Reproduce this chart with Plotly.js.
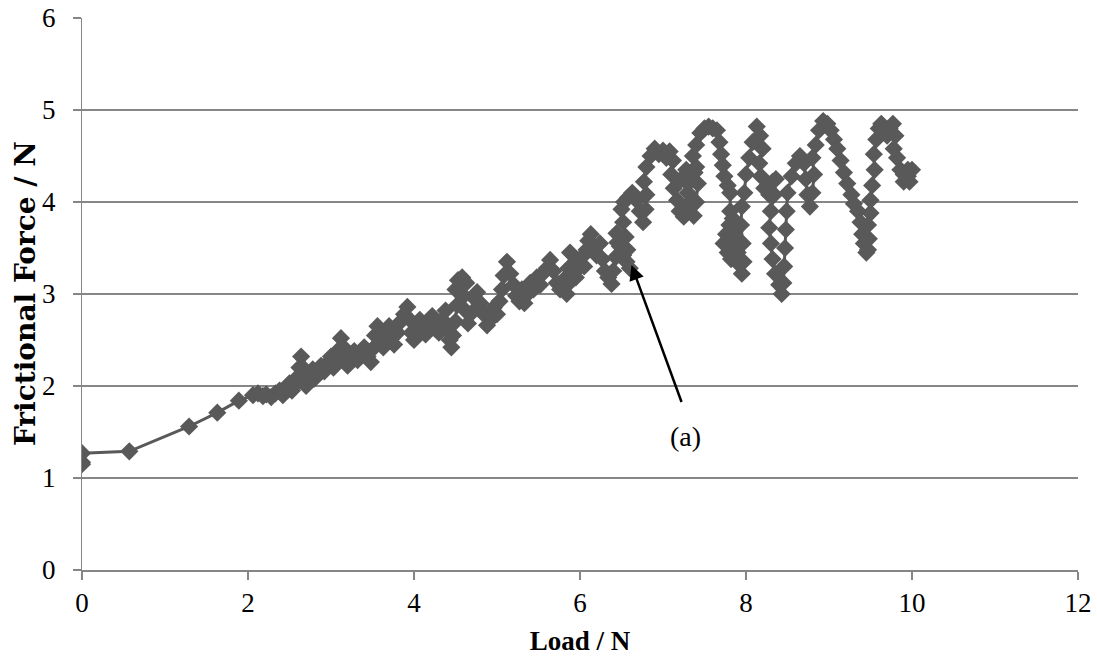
<!DOCTYPE html>
<html>
<head>
<meta charset="utf-8">
<script src="https://cdn.plot.ly/plotly-3.0.1.min.js"></script>
<style>html,body{margin:0;padding:0;background:#fff;}#chart{width:1097px;height:657px;}</style>
</head>
<body>
<div id="chart"></div>
<script>
// Load (N) and frictional force (N) in trace order
var load = [
0,0,0,0.57,1.29,1.63,1.89,
2.06,2.12,2.18,2.22,2.28,2.33,2.38,2.42,2.46,2.5,
2.53,2.57,2.6,2.62,2.64,2.66,2.68,2.7,2.74,2.78,
2.8,2.84,2.88,2.92,2.96,3.0,3.03,3.06,3.1,3.12,
3.15,3.18,3.2,3.24,3.28,3.32,3.36,3.4,3.44,3.48,
3.5,3.53,3.56,3.6,3.63,3.66,3.7,3.73,3.76,3.8,
3.84,3.88,3.92,3.95,3.97,4.0,4.03,4.07,4.1,4.14,
4.18,4.22,4.26,4.3,4.34,4.38,4.41,4.43,4.45,4.47,
4.5,4.52,4.5,4.53,4.58,4.63,4.6,4.62,4.65,4.7,
4.73,4.76,4.8,4.84,4.88,4.92,4.96,5.0,5.03,5.06,
5.08,5.12,5.16,5.2,5.23,5.27,5.3,5.33,5.37,5.4,
5.44,5.48,5.52,5.55,5.6,5.64,5.68,5.72,5.76,5.8,
5.84,5.87,5.86,5.88,5.92,5.95,5.98,6.02,6.05,6.08,
6.1,6.13,6.17,6.2,6.24,6.27,6.3,6.34,6.38,6.4,
6.43,6.45,6.44,6.48,6.52,6.56,6.6,6.57,6.55,6.52,
6.5,6.53,6.58,6.63,6.68,6.72,6.76,6.79,6.8,6.77,
6.8,6.85,6.9,6.95,7.0,7.04,7.08,7.12,7.1,7.13,
7.17,7.2,7.25,7.28,7.3,7.34,7.37,7.4,7.42,7.35,
7.28,7.22,7.3,7.38,7.4,
7.36,7.4,7.45,7.5,7.55,7.6,7.65,7.68,7.7,7.72,
7.74,7.78,7.81,7.81,7.8,7.76,7.73,7.78,7.82,7.84,
7.86,7.84,7.88,7.9,7.92,7.95,7.97,7.96,7.94,7.95,
7.98,8.0,8.04,8.08,8.13,8.17,8.2,8.16,8.18,8.22,
8.28,8.32,8.36,8.34,8.3,8.28,8.3,8.32,8.35,8.4,
8.43,8.45,8.46,8.47,8.48,8.49,8.5,8.55,8.6,8.65,
8.7,8.72,8.74,8.77,8.8,8.82,8.8,8.84,8.88,8.93,
8.98,9.02,9.06,9.1,9.14,9.18,9.22,9.27,9.3,9.35,
9.38,9.4,9.42,9.45,9.47,9.48,9.47,9.5,9.5,9.52,
9.55,9.54,9.57,9.6,9.63,9.67,9.7,9.73,9.77,9.8,
9.78,9.82,9.86,9.9,9.95,10.0,9.97,9.9,9.95
];
var friction = [
1.17,1.15,1.27,1.29,1.56,1.71,1.84,
1.90,1.92,1.89,1.91,1.88,1.92,1.95,1.90,1.98,2.03,
1.95,2.02,2.1,2.2,2.32,2.2,2.08,2.0,2.1,2.18,
2.08,2.14,2.22,2.16,2.25,2.32,2.2,2.28,2.4,2.52,
2.42,2.3,2.22,2.3,2.38,2.28,2.35,2.42,2.32,2.26,
2.4,2.55,2.65,2.5,2.42,2.56,2.65,2.52,2.45,2.58,
2.7,2.78,2.86,2.72,2.58,2.5,2.62,2.72,2.65,2.56,
2.68,2.76,2.62,2.58,2.72,2.82,2.65,2.5,2.42,2.55,
2.7,2.88,3.05,3.15,3.18,3.12,2.98,2.82,2.68,2.8,
2.95,3.02,2.9,2.78,2.66,2.72,2.85,2.78,2.92,3.05,
3.2,3.35,3.22,3.1,2.98,2.92,3.05,2.9,3.0,3.12,
3.05,3.18,3.1,3.22,3.28,3.37,3.25,3.12,3.05,3.15,
3.0,3.12,3.28,3.45,3.32,3.18,3.28,3.4,3.3,3.48,
3.58,3.65,3.52,3.42,3.55,3.38,3.25,3.18,3.11,3.25,
3.4,3.56,3.66,3.52,3.42,3.35,3.28,3.48,3.62,3.78,
3.92,4.0,4.05,4.1,4.02,3.9,3.78,3.92,4.08,4.22,
4.38,4.5,4.58,4.52,4.56,4.48,4.55,4.45,4.3,4.15,
4.02,3.9,3.84,3.95,4.1,3.95,3.85,4.0,4.2,4.3,
4.35,4.25,4.2,4.32,4.38,
4.5,4.62,4.75,4.8,4.82,4.8,4.78,4.65,4.52,4.4,
4.28,4.18,4.1,3.9,3.75,3.65,3.55,3.45,3.38,3.52,
3.68,3.82,3.6,3.45,3.32,3.22,3.35,3.55,3.75,3.95,
4.1,4.3,4.48,4.65,4.82,4.72,4.58,4.42,4.28,4.15,
4.08,4.22,4.25,4.08,3.9,3.72,3.55,3.38,3.22,3.1,
3.0,3.12,3.3,3.5,3.7,3.9,4.1,4.28,4.42,4.5,
4.42,4.25,4.08,3.95,4.1,4.3,4.48,4.62,4.78,4.88,
4.85,4.78,4.68,4.58,4.45,4.32,4.2,4.08,3.98,3.9,
3.78,3.65,3.55,3.45,3.48,3.6,3.75,3.88,4.02,4.18,
4.35,4.52,4.68,4.8,4.85,4.78,4.72,4.8,4.85,4.72,
4.58,4.48,4.35,4.22,4.28,4.35,4.22,4.3,4.35
];
var xTicks = [0,2,4,6,8,10,12];
var yTicks = [0,1,2,3,4,5,6];
var xTitle = "Load / N";
var yTitle = "Frictional Force / N";
var markLabel = "(a)";

var serif = "Liberation Serif, Times New Roman, serif";
var grey = "#595959";
var axisGrey = "#868686";

var trace = {
  x: load, y: friction,
  type: "scatter", mode: "lines+markers",
  line: {color: grey, width: 3},
  marker: {symbol: "diamond", size: 14, color: grey},
  showlegend: false, hoverinfo: "skip"
};

var annotations = [
  {xref: "paper", yref: "paper", x: -0.0572, y: 0.5, xanchor: "center", yanchor: "middle",
   text: "<b>" + yTitle + "</b>", textangle: -90, showarrow: false,
   font: {family: "DejaVu Serif, serif", size: 28, color: "#000"}},
  {x: 6.62, y: 3.315, xref: "x", yref: "y", ax: 7.23, ay: 1.81, axref: "x", ayref: "y",
   text: "", showarrow: true, arrowhead: 2, arrowsize: 1.2, arrowwidth: 2.5, arrowcolor: "#000"},
  {x: 7.27, y: 1.45, xref: "x", yref: "y", text: markLabel, showarrow: false,
   font: {family: serif, size: 28, color: "#000"}}
];
// y tick labels placed further from the axis, as in the reference
yTicks.forEach(function (v) {
  annotations.push({xref: "paper", yref: "y", x: -0.0251, y: v, xanchor: "right", yanchor: "middle",
    text: String(v), showarrow: false, borderpad: 0,
    font: {family: serif, size: 27, color: "#000"}});
});

var layout = {
  width: 1097, height: 657,
  margin: {l: 82, r: 19, t: 18, b: 87},
  paper_bgcolor: "#fff", plot_bgcolor: "#fff",
  font: {family: serif, size: 27, color: "#000"},
  xaxis: {
    range: [0, 12], tickvals: xTicks, ticktext: xTicks.map(String),
    showgrid: false, zeroline: false,
    showline: true, linecolor: axisGrey, linewidth: 1.5,
    ticks: "outside", ticklen: 8, tickcolor: axisGrey, tickwidth: 1.5,
    tickfont: {family: serif, size: 27, color: "#000"},
    title: {text: "<b>" + xTitle + "</b>", font: {family: serif, size: 27, color: "#000"}, standoff: 14}
  },
  yaxis: {
    range: [0, 6], tickvals: yTicks, showticklabels: false,
    showgrid: true, gridcolor: axisGrey, gridwidth: 1.5,
    zeroline: false,
    showline: true, linecolor: axisGrey, linewidth: 1.5,
    ticks: "outside", ticklen: 8, tickcolor: axisGrey, tickwidth: 1.5
  },
  annotations: annotations
};

Plotly.newPlot("chart", [trace], layout, {displayModeBar: false, staticPlot: true});
</script>
</body>
</html>
